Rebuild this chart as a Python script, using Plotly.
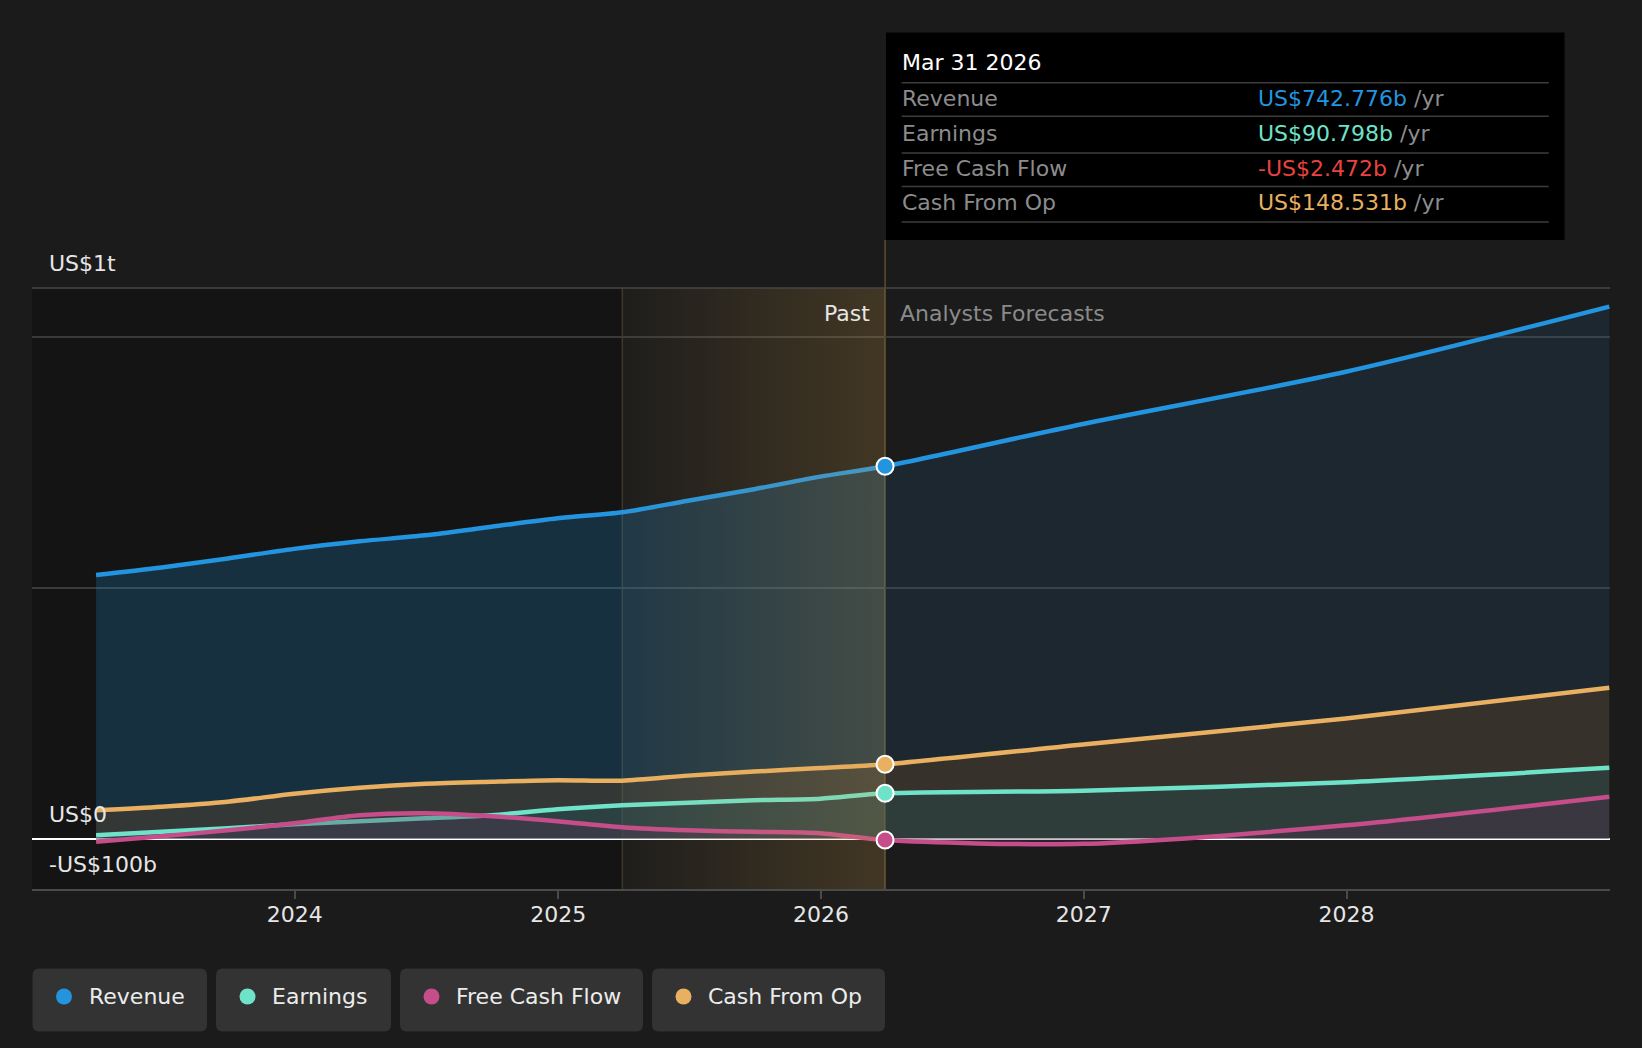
import plotly.graph_objects as go

# ---- data (US$ billions) ----
past_dates = ["2023-03-31", "2023-06-30", "2023-09-30", "2023-12-31",
              "2024-03-31", "2024-06-30", "2024-09-30", "2024-12-31",
              "2025-03-31", "2025-06-30", "2025-09-30", "2025-12-31",
              "2026-03-31"]
forecast_dates = ["2026-12-31", "2027-12-31", "2028-12-31"]

revenue_past = [526, 541, 559, 578, 593, 605, 622, 639, 651, 674, 697, 722, 742.776]
revenue_fc = [827, 931, 1061]
earnings_past = [7, 14, 21, 29, 35, 41, 47, 59, 67, 72, 77, 80, 90.798]
earnings_fc = [96, 113, 141.5]
fcf_past = [-6, 5, 17, 31, 47, 51, 45, 35, 23, 17, 14, 11, -2.472]
fcf_fc = [-10, 27, 84]
cfo_past = [57, 64, 74, 90, 102, 110, 114, 117, 116, 126, 134, 141, 148.531]
cfo_fc = [188, 240, 301]

series_names = ["Revenue", "Earnings", "Free Cash Flow", "Cash From Op"]
series_colors = ["#2394df", "#6fe3c9", "#c44d8a", "#e8b060"]
tooltip_values = ["US$742.776b", "US$90.798b", "-US$2.472b", "US$148.531b"]
tooltip_colors = ["#2394df", "#6fe3c9", "#e8433f", "#e8b060"]

y_label_vals = [1098, 0, -100]
y_label_text = ["US$1t", "US$0", "-US$100b"]
x_tick_vals = ["2024-01-01", "2025-01-01", "2026-01-01", "2027-01-01", "2028-01-01"]
x_tick_text = ["2024", "2025", "2026", "2027", "2028"]

current_date = "2026-03-31"
past_start = "2025-03-31"

# ---- page geometry ----
W_PX, H_PX = 1642, 1048
L, R, T, B = 32, 32, 288, 159
PW = W_PX - L - R
PH = H_PX - T - B
FONT = "DejaVu Sans"
FS = 22
BG = "#1b1b1b"


def px(x):
    return (x - L) / PW


def py(y):
    return (H_PX - B - y) / PH


def rounded_box(x0, y0, x1, y1, r=7):
    rx, ry = r / PW, r / PH
    a, b = px(x0), px(x1)
    top, bot = py(y0), py(y1)
    return (f"M{a+rx},{top} L{b-rx},{top} Q{b},{top} {b},{top-ry} "
            f"L{b},{bot+ry} Q{b},{bot} {b-rx},{bot} L{a+rx},{bot} "
            f"Q{a},{bot} {a},{bot+ry} L{a},{top-ry} Q{a},{top} {a+rx},{top} Z")


def label(x, y, text, size=FS, color="#e6e6e6", xanchor="left", **kw):
    d = dict(x=x, xref="paper", y=y, yref="paper", text=text, showarrow=False,
             xanchor=xanchor, yanchor="middle",
             font=dict(family=FONT, size=size, color=color))
    d.update(kw)
    return d


fills = [None, "rgba(31,91,92,0.30)", "rgba(90,43,82,0.30)", "rgba(115,77,36,0.30)"]
values = [revenue_past + revenue_fc, earnings_past + earnings_fc,
          fcf_past + fcf_fc, cfo_past + cfo_fc]
all_dates = past_dates + forecast_dates
spline = dict(shape="spline", smoothing=0.8)

fig = go.Figure()

# revenue area: stronger fill over the past, lighter over the forecast
fig.add_trace(go.Scatter(
    x=past_dates, y=revenue_past, mode="none", fill="tozeroy",
    fillcolor="rgba(35,148,223,0.22)", line=spline, hoverinfo="skip",
))
fig.add_trace(go.Scatter(
    x=[current_date] + forecast_dates, y=[revenue_past[-1]] + revenue_fc,
    mode="none", fill="tozeroy", fillcolor="rgba(35,148,223,0.10)",
    line=spline, hoverinfo="skip",
))

# draw order: revenue, cash from op, earnings, fcf
for i in [0, 3, 1, 2]:
    fig.add_trace(go.Scatter(
        x=all_dates, y=values[i], mode="lines", name=series_names[i],
        line=dict(color=series_colors[i], width=4.5, **spline),
        fill="tozeroy" if fills[i] else "none", fillcolor=fills[i], hoverinfo="skip",
    ))

# golden "last year" gradient overlay above the lines
fig.add_trace(go.Scatter(
    x=[past_start, current_date, current_date, past_start, past_start],
    y=[-100, -100, 1098, 1098, -100],
    mode="none", fill="toself", hoverinfo="skip", showlegend=False,
    fillgradient=dict(type="horizontal",
                      colorscale=[[0, "rgba(214,160,70,0.02)"],
                                  [1, "rgba(214,160,70,0.21)"]]),
))

# current-date markers
fig.add_trace(go.Scatter(
    x=[current_date] * 4,
    y=[v[len(past_dates) - 1] for v in values],
    mode="markers", hoverinfo="skip",
    marker=dict(size=17, color=series_colors, line=dict(color="white", width=2)),
))

shapes = [
    # darker past region
    dict(type="rect", xref="x", yref="paper", x0="2023-01-01", x1=past_start,
         y0=0, y1=1, fillcolor="#141414", line_width=0, layer="below"),
    dict(type="line", xref="x", yref="paper", x0=past_start, x1=past_start,
         y0=0, y1=1, line=dict(color="rgba(200,165,100,0.22)", width=1.5), layer="below"),
    dict(type="line", xref="paper", yref="paper", x0=0, x1=1, y0=1, y1=1,
         line=dict(color="#474747", width=1.5)),
    # tooltip
    dict(type="rect", xref="paper", yref="paper", x0=px(886), x1=px(1564.5),
         y0=py(240), y1=py(32.5), fillcolor="#000000", line_width=0),
    dict(type="line", xref="x", yref="paper", x0=current_date, x1=current_date,
         y0=0, y1=1, line=dict(color="#5e4d30", width=1.5), layer="below"),
    dict(type="line", xref="x", yref="paper", x0=current_date, x1=current_date,
         y0=1, y1=py(240), line=dict(color="#5e4d30", width=1.5)),
]
for sy in [82.7, 116.2, 152.9, 186.4, 222]:
    shapes.append(dict(type="line", xref="paper", yref="paper", x0=px(901.6), x1=px(1548.8),
                       y0=py(sy), y1=py(sy), line=dict(color="#3c3c3c", width=1.5)))

annotations = []
# y labels
for v, t in zip(y_label_vals, y_label_text):
    annotations.append(dict(x=px(47), xref="paper", y=v, yref="y", text=t, showarrow=False,
                            xanchor="left", yanchor="bottom", yshift=10,
                            font=dict(family=FONT, size=FS, color="#e6e6e6")))

annotations += [
    dict(x=current_date, xref="x", y=py(313), yref="paper", text="Past", showarrow=False,
         xanchor="right", yanchor="middle", xshift=-13,
         font=dict(family=FONT, size=FS, color="#e6e6e6")),
    dict(x=current_date, xref="x", y=py(313), yref="paper", text="Analysts Forecasts",
         showarrow=False, xanchor="left", yanchor="middle", xshift=13,
         font=dict(family=FONT, size=FS, color="#8a8a8a")),
    label(px(899.5), py(62.8), "Mar 31 2026", color="#ffffff"),
]
row_y = [98.4, 133, 168.6, 203]
for i, name in enumerate(series_names):
    annotations.append(label(px(899.5), py(row_y[i]), name, color="#8c8c8c"))
    annotations.append(label(
        px(1255.5), py(row_y[i]),
        f"<span style='color:{tooltip_colors[i]}'>{tooltip_values[i]}</span> /yr",
        color="#8c8c8c"))

# custom legend
boxes = [(32.5, 207), (216, 391), (400, 643), (652, 885)]
for i, (bx0, bx1) in enumerate(boxes):
    shapes.append(dict(type="path", xref="paper", yref="paper",
                       path=rounded_box(bx0, 968.6, bx1, 1031.5),
                       fillcolor="#333333", line_width=0))
    shapes.append(dict(type="circle", xref="paper", yref="paper", xsizemode="pixel",
                       ysizemode="pixel", xanchor=px(bx0 + 31.5), yanchor=py(996.5),
                       x0=-8, x1=8, y0=-8, y1=8, fillcolor=series_colors[i], line_width=0))
    annotations.append(label(px(bx0 + 54), py(996.5), series_names[i], color="#ececec"))

fig.update_layout(
    width=W_PX, height=H_PX,
    margin=dict(l=L, r=R, t=T, b=B),
    paper_bgcolor=BG, plot_bgcolor=BG,
    showlegend=False, hovermode=False,
    font=dict(family=FONT, color="#e6e6e6"),
    shapes=shapes, annotations=annotations,
)
fig.update_xaxes(
    type="date", range=["2023-01-01", "2029-01-01"],
    tickvals=x_tick_vals, ticktext=x_tick_text,
    showgrid=False, zeroline=False,
    showline=True, linecolor="#4a4a4a", linewidth=2,
    ticks="outside", ticklen=8, tickwidth=2, tickcolor="#4a4a4a",
    ticklabelstandoff=-3,
    tickfont=dict(family=FONT, size=FS, color="#e6e6e6"),
)
fig.update_yaxes(
    range=[-100, 1098], tickvals=[0, 500, 1000], showticklabels=False,
    showgrid=True, gridcolor="#3a3a3a", gridwidth=1.5,
    zeroline=True, zerolinecolor="#ffffff", zerolinewidth=2,
)

fig.write_html(
    "out.html",
    config={"displayModeBar": False},
    post_script="document.body.style.margin='0';document.body.style.background='#1b1b1b';",
)
